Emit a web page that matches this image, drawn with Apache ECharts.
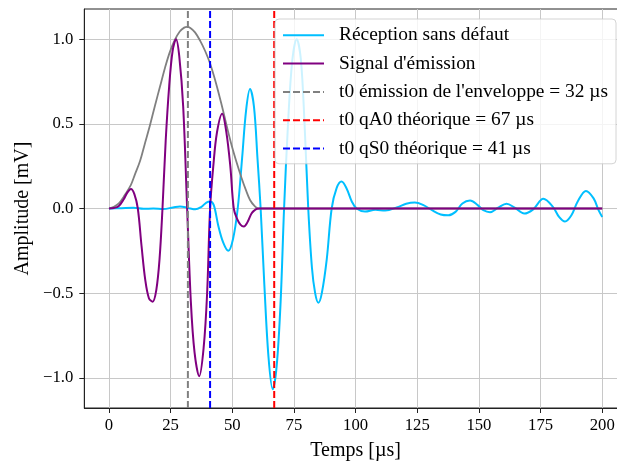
<!DOCTYPE html>
<html><head><meta charset="utf-8">
<script src="https://cdn.jsdelivr.net/npm/echarts@6/dist/echarts.min.js"></script>
<style>html,body{margin:0;padding:0;background:#fff}#c{width:617px;height:464px}</style>
</head><body><div id="c"></div>
<script>
// ---- data ----
const xTicks = [0, 25, 50, 75, 100, 125, 150, 175, 200];
const yTicks = [-1, -0.5, 0, 0.5, 1];
const xLimits = [-10, 210];
const yLimits = [-1.178, 1.178];

const legendNames = ["Réception sans défaut", "Signal d'émission",
  "t0 émission de l'enveloppe = 32 µs", "t0 qA0 théorique = 67 µs", "t0 qS0 théorique = 41 µs"];
const t0Values = [32, 67, 41];

const receptionT = [0,5,10,14,18,22,26,28.8,31,33,35,37.5,39.5,41,42.5,44.3,46.3,48.4,50.3,52.2,54,55.6,57.2,58.8,60.2,61.5,63,64.7,66.4,68,69.6,71,72.6,74.3,76.1,77.8,79.3,80.8,82.3,83.6,84.9,86.3,88.3,90.3,92.3,94.3,96.3,98.5,100.4,103.8,108,112,117,120.5,124,127.5,131,134.5,137.6,140.5,143.3,146.4,149.5,151.8,154.5,157.8,161.2,164.5,168.4,172,176.1,180,182.5,184.9,187.5,190,193.4,196.5,198.5,200];
const receptionV = [0,0.002,0.004,-0.002,0,-0.003,0.006,0.012,0.008,0,-0.005,0.01,0.035,0.042,0.02,-0.1,-0.2,-0.25,-0.18,0,0.3,0.58,0.705,0.6,0.3,0,-0.45,-0.88,-1.068,-0.93,-0.55,0,0.5,0.87,1.0,0.88,0.5,0,-0.35,-0.5,-0.557,-0.5,-0.3,0,0.12,0.159,0.12,0.04,0,-0.018,-0.008,-0.012,0.008,0.028,0.035,0.02,-0.01,-0.035,-0.04,-0.02,0.03,0.047,0.02,-0.01,-0.022,0.005,0.028,0.005,-0.03,-0.005,0.057,0.01,-0.05,-0.077,-0.04,0.04,0.104,0.06,-0.01,-0.05];

const emissionT = [0,2,4,6,7.5,8.9,10.3,11.7,13.2,14.7,16.2,17.7,19.2,20.5,21.7,23,24.4,25.8,27.2,28.5,30.1,31.7,33.2,34.7,36.6,38.4,39.8,41,42.3,43.8,45.9,47.6,49.2,50.6,51.9,53.3,54.7,56.2,57.8,59.5,61,200];
const emissionV = [0,0.003,0.015,0.055,0.095,0.115,0.085,0,-0.22,-0.42,-0.53,-0.55,-0.48,-0.3,0,0.4,0.72,0.93,1.0,0.9,0.6,0,-0.55,-0.85,-0.99,-0.82,-0.5,0,0.25,0.45,0.56,0.45,0.25,0,-0.06,-0.095,-0.106,-0.08,-0.03,-0.005,0,0];

const envelopeT = [0,2,4,6,8.9,10.5,12.6,14.5,16.6,18.7,20.7,22.7,24.7,26.7,28.7,30.5,31.7,33,34.9,37,39,41,43.4,45.7,47.7,49.7,51.8,53.8,55.5,57.2,59,60.5,200];
const envelopeV = [0,0.01,0.03,0.07,0.14,0.2,0.28,0.38,0.49,0.61,0.72,0.83,0.925,0.995,1.045,1.068,1.072,1.066,1.04,0.99,0.93,0.856,0.74,0.611,0.49,0.375,0.27,0.179,0.11,0.05,0.015,0,0];

// ---- chart ----
const pairs = (a, b) => a.map((v, i) => [v, b[i]]);
const FONT = 'Liberation Serif';
const NOFILL = { color: 'rgba(0,0,0,0)', borderWidth: 0 };
const vline = (name, x, color) => ({
  name: name, type: 'line', symbol: 'none', silent: true,
  data: [[x, yLimits[0]], [x, yLimits[1]]],
  lineStyle: { color: color, width: 2, type: [7, 3] }, itemStyle: NOFILL
});
const chart = echarts.init(document.getElementById('c'), null, { renderer: 'canvas' });
chart.setOption({
  animation: false,
  backgroundColor: '#fff',
  grid: { left: 84.3, top: 9, width: 542.6, height: 399, containLabel: false, outerBoundsMode: 'none',
    show: true, borderColor: '#222', borderWidth: 1, backgroundColor: 'transparent' },
  xAxis: {
    type: 'value', min: xLimits[0], max: xLimits[1],
    axisLine: { onZero: false, lineStyle: { color: '#222', width: 1 } },
    axisTick: { show: true, customValues: xTicks, length: 5, lineStyle: { color: '#222' } },
    axisLabel: { customValues: xTicks, margin: 9, color: '#000', fontFamily: FONT, fontSize: 16.7 },
    splitLine: { show: true, lineStyle: { color: '#c8c8c8', width: 1 } }
  },
  yAxis: {
    type: 'value', min: yLimits[0], max: yLimits[1],
    axisLine: { show: true, onZero: false, lineStyle: { color: '#222', width: 1 } },
    axisTick: { show: true, customValues: yTicks, length: 5, lineStyle: { color: '#222' } },
    axisLabel: { customValues: yTicks, margin: 11, color: '#000', fontFamily: FONT, fontSize: 16.7,
      formatter: v => (v < 0 ? '\u2212' : '') + Math.abs(v).toFixed(1) },
    splitLine: { show: true, lineStyle: { color: '#c8c8c8', width: 1 } }
  },
  legend: {
    data: legendNames, orient: 'vertical', left: 275, top: 19,
    itemWidth: 41, itemHeight: 20, itemGap: 8.3,
    padding: [6.3, 8, 5.3, 7],
    backgroundColor: 'rgba(255,255,255,0.8)', borderColor: 'rgba(200,200,200,0.8)', borderWidth: 1, borderRadius: 4,
    textStyle: { fontFamily: FONT, fontSize: 19.4, color: '#000', lineHeight: 20, padding: [0, 0, 0, 10] },
    selectedMode: false
  },
  graphic: [
    { type: 'text', x: 355.6, y: 451, style: { text: 'Temps [µs]', font: '20px "Liberation Serif"', fill: '#000', align: 'center', verticalAlign: 'middle' } },
    { type: 'text', x: 22.5, y: 208.5, rotation: Math.PI / 2, style: { text: 'Amplitude [mV]', font: '20px "Liberation Serif"', fill: '#000', align: 'center', verticalAlign: 'middle' } }
  ],
  series: [
    { name: legendNames[0], type: 'line', symbol: 'none', smooth: 0.35, data: pairs(receptionT, receptionV),
      lineStyle: { color: '#00BFFF', width: 2 }, itemStyle: NOFILL },
    { name: 'enveloppe', type: 'line', symbol: 'none', smooth: 0.35, data: pairs(envelopeT, envelopeV),
      lineStyle: { color: '#808080', width: 1.8 }, itemStyle: NOFILL },
    { name: legendNames[1], type: 'line', symbol: 'none', smooth: 0.35, data: pairs(emissionT, emissionV),
      lineStyle: { color: '#800080', width: 2 }, itemStyle: NOFILL },
    vline(legendNames[2], t0Values[0], '#808080'),
    vline(legendNames[3], t0Values[1], '#FF0000'),
    vline(legendNames[4], t0Values[2], '#0000FF')
  ]
});
</script></body></html>
